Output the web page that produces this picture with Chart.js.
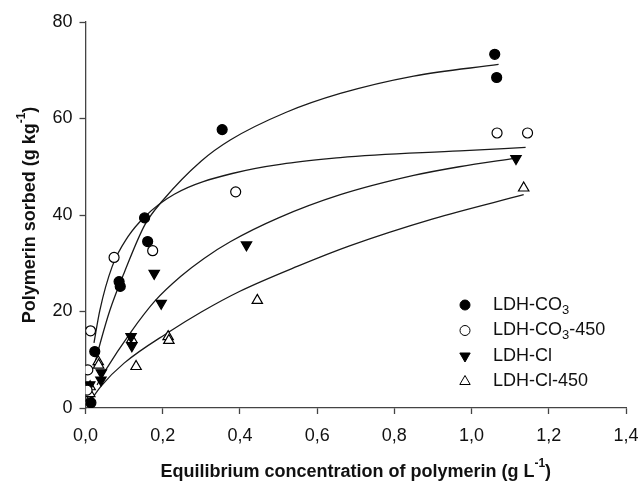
<!DOCTYPE html>
<html>
<head>
<meta charset="utf-8">
<script src="https://cdn.jsdelivr.net/npm/chart.js@4.4.1/dist/chart.umd.min.js"></script>
<style>
  html, body { margin: 0; padding: 0; background: #fff; }
  #wrap { width: 641px; height: 486px; }
</style>
</head>
<body>
<div id="wrap"><canvas id="chart"></canvas></div>
<script>
// Polymerin sorption isotherms on LDH samples

// measured points
const co3X = [0.014, 0.024, 0.087, 0.09, 0.153, 0.161, 0.354, 1.06, 1.065];
const co3Y = [1.1, 11.7, 26.2, 25.2, 39.4, 34.5, 57.7, 73.3, 68.5];
const co3450X = [0.004, 0.006, 0.013, 0.074, 0.174, 0.389, 1.066, 1.145];
const co3450Y = [3.7, 7.9, 16.0, 31.2, 32.6, 44.8, 57.0, 57.0];
const clX = [0.011, 0.04, 0.041, 0.118, 0.12, 0.178, 0.196, 0.417, 1.115];
const clY = [4.8, 5.8, 7.3, 14.8, 12.9, 27.9, 21.7, 33.8, 51.7];
const cl450X = [0.01, 0.011, 0.012, 0.033, 0.034, 0.12, 0.131, 0.214, 0.216, 0.445, 1.135];
const cl450Y = [1.5, 3.0, 4.4, 9.6, 8.9, 14.2, 8.6, 14.8, 14.0, 22.3, 45.6];

// fitted curves
const co3FitX = [0.022, 0.04, 0.063, 0.1, 0.154, 0.2, 0.3, 0.376, 0.52, 0.66, 0.85, 1.07];
const co3FitY = [8.6, 14, 20.2, 28, 38, 43, 51.2, 55.6, 61.3, 65.2, 68.8, 71.2];
const co3450FitX = [0.022, 0.037, 0.069, 0.11, 0.153, 0.23, 0.38, 0.66, 0.97, 1.14];
const co3450FitY = [13.5, 20.2, 29.3, 35.5, 39.6, 44.3, 48.6, 51.9, 53.3, 54];
const clFitX = [0.03, 0.05, 0.118, 0.18, 0.247, 0.307, 0.376, 0.5, 0.66, 0.85, 0.968, 1.115];
const clFitY = [4.8, 7.6, 15.8, 22.2, 27.3, 31.0, 34.5, 39.4, 44.2, 48.2, 50.0, 51.8];
const cl450FitX = [0.012, 0.041, 0.1, 0.217, 0.3, 0.4, 0.55, 0.684, 0.9, 1.135];
const cl450FitY = [1.4, 4.6, 9.3, 15.8, 19.9, 24.2, 29.4, 33.6, 39.2, 44.2];

const xTicks = [0, 0.2, 0.4, 0.6, 0.8, 1.0, 1.2, 1.4];
const yTicks = [0, 20, 40, 60, 80];

const legendItems = [
    { main: 'LDH-CO', sub: '3', rest: '', style: 'circle', fill: '#000', rot: 0 },
    { main: 'LDH-CO', sub: '3', rest: '-450', style: 'circle', fill: '#fff', rot: 0 },
    { main: 'LDH-Cl', sub: '', rest: '', style: 'triangle', fill: '#000', rot: 180 },
    { main: 'LDH-Cl-450', sub: '', rest: '', style: 'triangle', fill: '#fff', rot: 0 }
];

function pts(xs, ys) {
    return xs.map((x, i) => ({ x: x, y: ys[i] }));
}

function markers(label, xs, ys, style, fill, rot) {
    return {
        label: label,
        data: pts(xs, ys),
        showLine: false,
        pointStyle: style,
        rotation: rot,
        pointRadius: style === 'circle' ? 5 : 6,
        pointHoverRadius: style === 'circle' ? 5 : 6,
        pointBackgroundColor: fill,
        pointBorderColor: '#000',
        pointBorderWidth: 1.2
    };
}

function fitLine(label, xs, ys) {
    return {
        label: label,
        data: pts(xs, ys),
        showLine: true,
        borderColor: '#1a1a1a',
        borderWidth: 1.3,
        pointRadius: 0,
        cubicInterpolationMode: 'monotone',
        fill: false
    };
}

// text with a superscript tail, drawn centred at (cx, cy)
function supText(ctx, base, sup, tail, cx, cy) {
    ctx.font = 'bold 18px "Liberation Sans", Arial, sans-serif';
    const w1 = ctx.measureText(base).width;
    const w3 = ctx.measureText(tail).width;
    ctx.font = 'bold 12px "Liberation Sans", Arial, sans-serif';
    const w2 = ctx.measureText(sup).width;
    let x = cx - (w1 + w2 + w3) / 2;
    ctx.textBaseline = 'middle';
    ctx.textAlign = 'left';
    ctx.font = 'bold 18px "Liberation Sans", Arial, sans-serif';
    ctx.fillText(base, x, cy);
    x += w1;
    ctx.font = 'bold 12px "Liberation Sans", Arial, sans-serif';
    ctx.fillText(sup, x, cy - 8);
    x += w2;
    ctx.font = 'bold 18px "Liberation Sans", Arial, sans-serif';
    ctx.fillText(tail, x, cy);
}

const decorPlugin = {
    id: 'decor',
    afterDraw(chart) {
        const ctx = chart.ctx;
        const area = chart.chartArea;
        ctx.save();
        ctx.fillStyle = '#111';

        // axis titles
        supText(ctx, 'Equilibrium concentration of polymerin (g L', '-1', ')',
            (area.left + area.right) / 2, 472);
        ctx.save();
        ctx.translate(30, (area.top + area.bottom) / 2);
        ctx.rotate(-Math.PI / 2);
        supText(ctx, 'Polymerin sorbed (g kg', '-1', ')', 0, 0);
        ctx.restore();

        // legend
        const symX = 465, textX = 493;
        legendItems.forEach((item, i) => {
            const y = 305 + i * 25.5;
            ctx.fillStyle = item.fill;
            ctx.strokeStyle = '#000';
            Chart.helpers.drawPoint(ctx, {
                pointStyle: item.style,
                rotation: item.rot,
                radius: item.style === 'circle' ? 5 : 6,
                borderWidth: 1.2
            }, symX, y);
            ctx.fillStyle = '#111';
            ctx.textBaseline = 'middle';
            ctx.textAlign = 'left';
            ctx.font = '18px "Liberation Sans", Arial, sans-serif';
            ctx.fillText(item.main, textX, y);
            let x = textX + ctx.measureText(item.main).width;
            if (item.sub) {
                ctx.font = '13px "Liberation Sans", Arial, sans-serif';
                ctx.fillText(item.sub, x, y + 5);
                x += ctx.measureText(item.sub).width;
            }
            if (item.rest) {
                ctx.font = '18px "Liberation Sans", Arial, sans-serif';
                ctx.fillText(item.rest, x, y);
            }
        });
        ctx.restore();
    }
};

const tickFont = { family: '"Liberation Sans", Arial, sans-serif', size: 18 };

new Chart(document.getElementById('chart'), {
    type: 'scatter',
    data: {
        datasets: [
            markers('LDH-CO3', co3X, co3Y, 'circle', '#000', 0),
            markers('LDH-CO3-450', co3450X, co3450Y, 'circle', '#fff', 0),
            markers('LDH-Cl', clX, clY, 'triangle', '#000', 180),
            markers('LDH-Cl-450', cl450X, cl450Y, 'triangle', '#fff', 0),
            fitLine('fit LDH-CO3', co3FitX, co3FitY),
            fitLine('fit LDH-CO3-450', co3450FitX, co3450FitY),
            fitLine('fit LDH-Cl', clFitX, clFitY),
            fitLine('fit LDH-Cl-450', cl450FitX, cl450FitY)
        ]
    },
    options: {
        responsive: true,
        maintainAspectRatio: false,
        animation: false,
        layout: { padding: { left: 0, right: 15, top: 22, bottom: 0 } },
        plugins: {
            legend: { display: false },
            tooltip: { enabled: false }
        },
        scales: {
            x: {
                type: 'linear',
                min: 0,
                max: 1.4,
                afterBuildTicks: s => { s.ticks = xTicks.map(v => ({ value: v })); },
                afterFit: s => { s.height = 78; s.paddingLeft = 0; s.paddingRight = 0; },
                border: { display: true, color: '#444', width: 1.3 },
                grid: { drawOnChartArea: false, drawTicks: true, tickLength: 6, color: '#444', tickWidth: 1.3 },
                ticks: {
                    color: '#111',
                    font: tickFont,
                    padding: 11,
                    maxRotation: 0,
                    callback: v => v.toFixed(1).replace('.', ',')
                }
            },
            y: {
                min: 0,
                max: 80,
                afterBuildTicks: s => { s.ticks = yTicks.map(v => ({ value: v })); },
                afterFit: s => { s.width = 85.5; s.paddingTop = 0; s.paddingBottom = 0; },
                border: { display: true, color: '#444', width: 1.3 },
                grid: { drawOnChartArea: false, drawTicks: true, tickLength: 6, color: '#444', tickWidth: 1.3 },
                ticks: {
                    color: '#111',
                    font: tickFont,
                    padding: 7
                }
            }
        }
    },
    plugins: [decorPlugin]
});
</script>
</body>
</html>
